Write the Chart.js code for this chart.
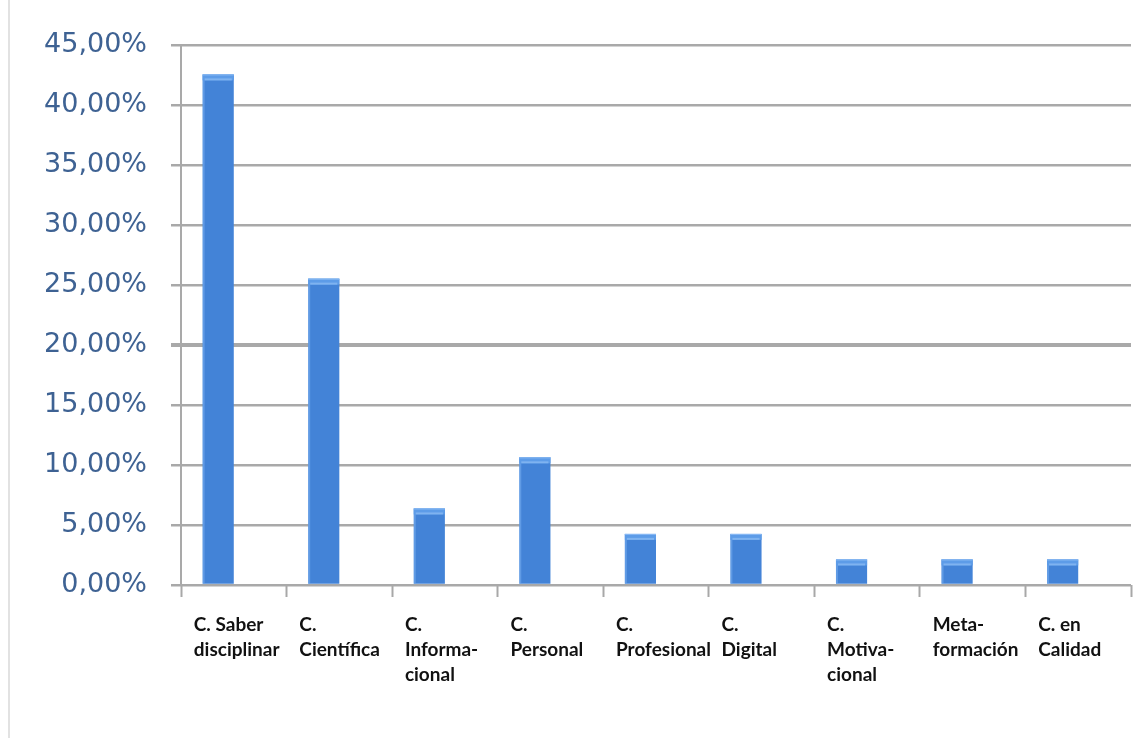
<!DOCTYPE html>
<html>
<head>
<meta charset="utf-8">
<script src="https://cdn.jsdelivr.net/npm/chart.js@4/dist/chart.umd.min.js"></script>
<style>
  html, body { margin: 0; padding: 0; background: #fff; }
  #wrap { position: relative; width: 1136px; height: 738px; }
  #wrap:before { content: ''; position: absolute; left: 8px; top: 0; bottom: 0; width: 2px; background: #e2e2e2; }
</style>
</head>
<body>
<div id="wrap"><canvas id="myChart" width="1136" height="738"></canvas></div>
<script>
'use strict';

// competencias (% de menciones)
let labels = [
    ['C. Saber', 'disciplinar'],
    ['C.', 'Científica'],
    ['C.', 'Informa-', 'cional'],
    ['C.', 'Personal'],
    ['C.', 'Profesional'],
    ['C.', 'Digital'],
    ['C.', 'Motiva-', 'cional'],
    ['Meta-', 'formación'],
    ['C. en', 'Calidad']
];
let values = [42.55, 25.53, 6.38, 10.64, 4.26, 4.26, 2.13, 2.13, 2.13];
// empty series so the bars sit to the left of each category centre
let spacer = [null, null, null, null, null, null, null, null, null];

let yMax = 45;
let yStep = 5;

// light strip on top of each bar
const barCap = {
    id: 'barCap',
    afterDatasetsDraw(chart) {
        const ctx = chart.ctx;
        const meta = chart.getDatasetMeta(0);
        ctx.save();
        meta.data.forEach(function(bar) {
            let w = bar.width;
            let left = bar.x - w / 2;
            ctx.fillStyle = 'rgba(120, 175, 240, 0.55)';
            ctx.fillRect(left, bar.y, 2, bar.base - bar.y);
            ctx.fillStyle = '#5d9ce8';
            ctx.fillRect(left, bar.y, w, 6);
            ctx.fillStyle = '#7fb3f0';
            ctx.fillRect(left + 2, bar.y + 4, w - 4, 2);
            ctx.fillStyle = '#8cbcf4';
            ctx.fillRect(left, bar.y, w, 1);
        });
        ctx.restore();
    }
};

let ctx = document.getElementById('myChart').getContext('2d');
let myChart = new Chart(ctx, {
    type: 'bar',
    data: {
        labels: labels,
        datasets: [{
            label: 'Porcentaje',
            data: values,
            backgroundColor: '#4383d7',
            borderWidth: 0,
            categoryPercentage: 0.59,
            barPercentage: 1
        }, {
            label: '',
            data: spacer,
            categoryPercentage: 0.59,
            barPercentage: 1
        }]
    },
    options: {
        responsive: false,
        animation: false,
        layout: {
            padding: { left: 10, right: 5, top: 45, bottom: 10 }
        },
        plugins: {
            legend: { display: false },
            tooltip: { enabled: false }
        },
        scales: {
            x: {
                grid: {
                    offset: true,
                    drawOnChartArea: false,
                    drawTicks: true,
                    tickLength: 12,
                    tickWidth: 2,
                    tickColor: '#a8a8a8'
                },
                border: { display: false },
                ticks: {
                    autoSkip: false,
                    maxRotation: 0,
                    align: 'start',
                    labelOffset: -40,
                    padding: 15,
                    color: '#111',
                    font: { family: 'Lato', weight: 'bold', size: 19, lineHeight: 1.33 }
                },
                afterFit: function(scale) {
                    scale.height = 143;
                    // last label may overhang the plot, keep the full width anyway
                    scale.paddingLeft = 0;
                    scale.paddingRight = 0;
                }
            },
            y: {
                min: 0,
                max: yMax,
                grid: {
                    color: '#a9a9a9',
                    lineWidth: function(c) { return c.tick && c.tick.value === 20 ? 4 : 2.5; },
                    tickLength: 10,
                    tickColor: '#a9a9a9'
                },
                border: { display: true, color: '#a9a9a9', width: 2 },
                ticks: {
                    stepSize: yStep,
                    padding: 24,
                    color: '#3e6293',
                    font: { family: 'DejaVu Sans', size: 27 },
                    callback: function(v) { return v.toFixed(2).replace('.', ',') + '%'; }
                },
                afterFit: function(scale) { scale.width = 171; }
            }
        }
    },
    plugins: [barCap]
});
</script>
</body>
</html>
